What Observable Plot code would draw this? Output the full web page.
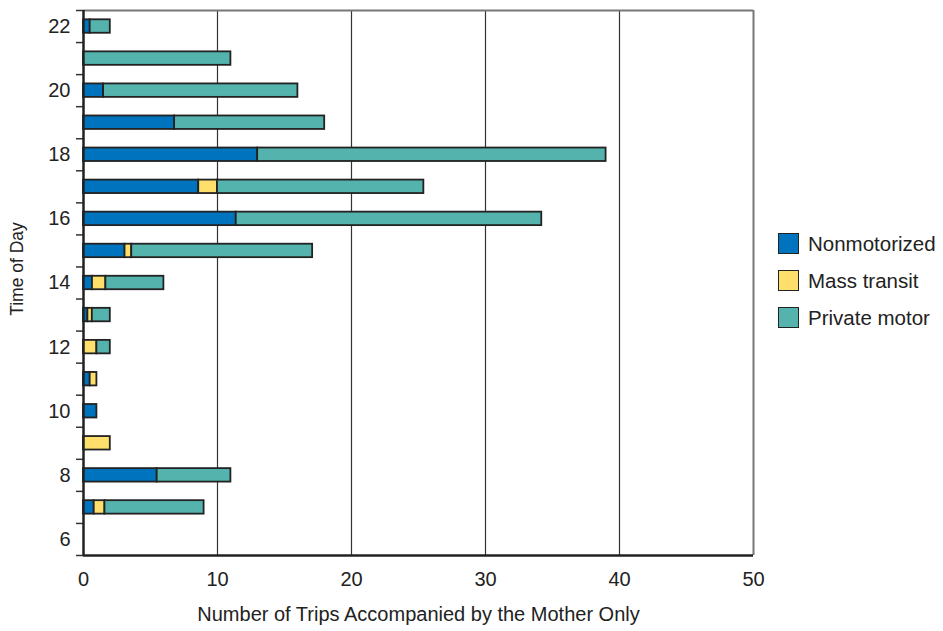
<!DOCTYPE html>
<html>
<head>
<meta charset="utf-8">
<script src="https://cdn.jsdelivr.net/npm/d3@7"></script>
<script src="https://cdn.jsdelivr.net/npm/@observablehq/plot@0.6"></script>
<style>
  html, body { margin: 0; padding: 0; background: #fff; overflow: hidden; }
  #wrap { position: relative; width: 943px; height: 631px; font-family: "Liberation Sans", Arial, Helvetica, sans-serif; color: #222; }
  #legend { position: absolute; left: 778px; top: 224.5px; }
  .row { display: flex; align-items: center; height: 37px; }
  .sw { width: 19px; height: 19px; border: 1.5px solid #222; margin-right: 9px; box-sizing: content-box; }
  .lab { font-size: 20.5px; line-height: 21px; }
</style>
</head>
<body>
<div id="wrap"><div id="chart"></div><div id="legend"></div></div>
<script>
// Data
const hours         = [7,   8,   9, 10,  11, 12,   13,   14,   15,   16,   17,  18,   19,   20, 21,  22];
const nonmotorized  = [0.8, 5.5, 0, 1,   0.5, 0,   0.33, 0.67, 3.1,  11.4, 8.6, 13,   6.8,  1.5, 0,  0.5];
const massTransit   = [0.8, 0,   2, 0,   0.5, 1,   0.33, 1.0,  0.5,  0,    1.4, 0,    0,    0,   0,  0];
const privateMotor  = [7.4, 5.5, 0, 0,   0,   1,   1.34, 4.33, 13.5, 22.8, 15.4, 26,  11.2, 14.5, 11, 1.5];
const modes  = ["Nonmotorized", "Mass transit", "Private motor"];
const colors = ["#0073BF", "#FFDF6B", "#54B3AD"];
const xTicks = [0, 10, 20, 30, 40, 50];
const yLabelTicks = [6, 8, 10, 12, 14, 16, 18, 20, 22];
const xTitle = "Number of Trips Accompanied by the Mother Only";
const yTitle = "Time of Day";

const series = [nonmotorized, massTransit, privateMotor];
const rows = [];
hours.forEach((h, i) => {
  modes.forEach((m, j) => {
    if (series[j][i] > 0) rows.push({hour: h, mode: m, value: series[j][i]});
  });
});
const halfTicks = d3.range(5.5, 23, 1);

const chart = Plot.plot({
  width: 943,
  height: 631,
  marginLeft: 83,
  marginRight: 190,
  marginTop: 10,
  marginBottom: 76,
  x: {domain: [0, 50]},
  y: {domain: [5.5, 22.5]},
  color: {domain: modes, range: colors},
  style: {fontFamily: "'Liberation Sans', Arial, Helvetica, sans-serif", fontSize: "20px", color: "#222", background: "white"},
  marks: [
    Plot.ruleX([10, 20, 30, 40], {stroke: "#333", strokeWidth: 1.2}),
    Plot.ruleX([50], {stroke: "#777", strokeWidth: 2}),
    Plot.ruleY([22.5], {stroke: "#777", strokeWidth: 2}),
    Plot.rectX(rows, {
      x: "value",
      y1: d => d.hour - 0.21,
      y2: d => d.hour + 0.21,
      fill: "mode",
      stroke: "#222",
      strokeWidth: 1.8
    }),
    Plot.axisY({ticks: halfTicks, tickSize: 7, tickFormat: () => "", label: null, stroke: "#333", strokeWidth: 1.5}),
    Plot.axisY({ticks: yLabelTicks, tickSize: 0, tickPadding: 13, fontSize: 20, label: null}),
    Plot.axisX({ticks: xTicks, tickSize: 0, tickPadding: 16, fontSize: 20, label: null}),
    Plot.ruleX([0], {stroke: "#222", strokeWidth: 2.5}),
    Plot.ruleY([5.5], {stroke: "#222", strokeWidth: 2.5}),
    Plot.text([xTitle], {text: d => d, frameAnchor: "bottom", textAnchor: "middle", dy: 65, fontSize: 20, fill: "#222"}),
    Plot.text([yTitle], {text: d => d, frameAnchor: "left", textAnchor: "middle", rotate: -90, dx: -66, dy: -14, fontSize: 17.5, fill: "#222"})
  ]
});
document.getElementById("chart").appendChild(chart);

const legend = document.getElementById("legend");
modes.forEach((m, i) => {
  const row = document.createElement("div");
  row.className = "row";
  const sw = document.createElement("div");
  sw.className = "sw";
  sw.style.background = colors[i];
  const lab = document.createElement("span");
  lab.className = "lab";
  lab.textContent = m;
  row.appendChild(sw);
  row.appendChild(lab);
  legend.appendChild(row);
});
</script>
</body>
</html>
